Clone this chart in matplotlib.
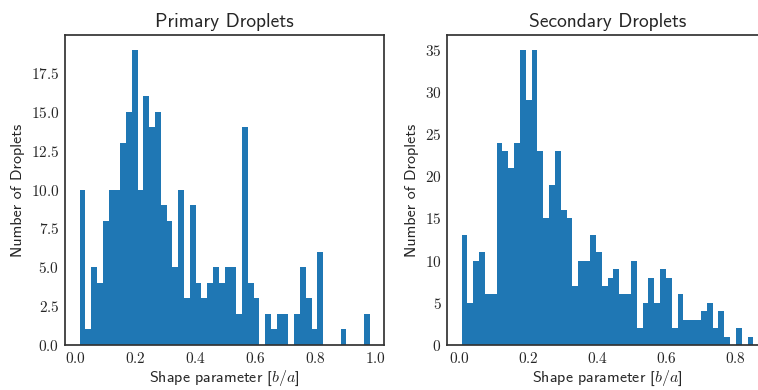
import matplotlib
matplotlib.use("Agg")
import matplotlib.pyplot as plt
import numpy as np

# histogram counts (50 bins each)
primary_counts = [10, 1, 5, 4, 8, 10, 10, 13, 15, 19,
                  10, 16, 14, 15, 9, 8, 5, 10, 3, 9,
                  4, 3, 4, 5, 4, 5, 5, 2, 14, 4,
                  3, 0, 2, 1, 2, 2, 0, 2, 5, 3,
                  1, 6, 0, 0, 0, 1, 0, 0, 0, 2]
primary_range = (0.013, 0.980)

secondary_counts = [13, 5, 10, 11, 6, 6, 24, 23, 21, 24,
                    35, 29, 35, 23, 15, 19, 23, 16, 15, 7,
                    10, 10, 13, 11, 7, 8, 9, 6, 6, 10,
                    2, 5, 8, 5, 9, 8, 2, 6, 3, 3,
                    3, 4, 5, 2, 4, 1, 0, 2, 0, 1]
secondary_range = (0.005, 0.852)

titles = ["Primary Droplets", "Secondary Droplets"]
xlabel = r"Shape parameter [$b/a$]"
ylabel = "Number of Droplets"

plt.rcParams['font.family'] = ['cmss10', 'DejaVu Sans']
plt.rcParams['mathtext.fontset'] = 'cm'
plt.rcParams['axes.formatter.use_mathtext'] = True
plt.rcParams['axes.unicode_minus'] = False
plt.rcParams['text.color'] = '0.15'
plt.rcParams['xtick.color'] = '0.15'
plt.rcParams['ytick.color'] = '0.15'

fig = plt.figure(figsize=(7.58, 3.9), dpi=100)
ax1 = fig.add_axes([65/758, 45/390, 319/758, 310/390])
ax2 = fig.add_axes([447/758, 45/390, 321/758, 310/390])

for ax, counts, rng, title in [(ax1, primary_counts, primary_range, titles[0]),
                               (ax2, secondary_counts, secondary_range, titles[1])]:
    edges = np.linspace(rng[0], rng[1], len(counts) + 1)
    centers = 0.5 * (edges[:-1] + edges[1:])
    ax.hist(centers, bins=edges, weights=counts, color='#1f77b4')
    ax.set_title(title, fontsize=14, pad=6, color='0.15')
    ax.set_xlabel(xlabel, fontsize=11.5, labelpad=2, color='0.15')
    ax.set_ylabel(ylabel, fontsize=11.5, labelpad=4, color='0.15')
    ax.tick_params(length=0, pad=4, labelsize=11)
    for lab in ax.get_xticklabels() + ax.get_yticklabels():
        lab.set_fontfamily('cmr10')
    for sp in ax.spines.values():
        sp.set_color('0.2')
        sp.set_linewidth(1.25)

fig.savefig("out.png", dpi=100)
